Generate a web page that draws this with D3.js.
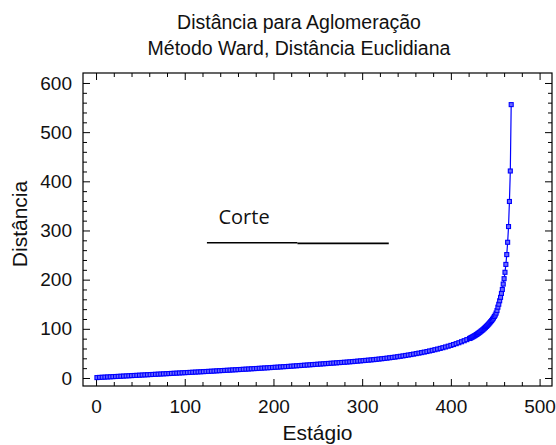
<!DOCTYPE html>
<meta charset="utf-8">
<style>
  body { margin: 0; background: #fff; }
  text { font-family: "Liberation Sans", Arial, sans-serif; fill: #111; }
  .tick line { stroke: #000; }
</style>
<svg width="556" height="445"></svg>
<script src="https://d3js.org/d3.v7.min.js"></script>
<script>

var titleLines = ["Distância para Aglomeração", "Método Ward, Distância Euclidiana"];
var xLabel = "Estágio",
    yLabel = "Distância";
var xTicks = [0, 100, 200, 300, 400, 500];
var yTicks = [0, 100, 200, 300, 400, 500, 600];

// stage numbers and agglomeration distance
var stages = [1,4,7,10,13,16,19,22,25,28,31,34,37,40,43,46,49,52,55,58,61,64,67,70,73,76,79,82,85,88,91,94,97,100,
  103,106,109,112,115,118,121,124,127,130,133,136,139,142,145,148,151,154,157,160,163,166,169,172,175,178,181,184,187,190,193,196,199,
  202,205,208,211,214,217,220,223,226,229,232,235,238,241,244,247,250,253,256,259,262,265,268,271,274,277,280,283,286,289,292,295,298,
  301,304,307,310,313,316,319,322,325,328,331,334,337,340,343,346,349,352,355,358,361,364,367,370,373,376,379,382,385,388,391,394,397,400,403,406,409,412,415,418,
  421,422,423,424,425,426,427,428,429,430,431,432,433,434,435,436,437,438,439,440,441,442,443,444,
  445,446,447,448,449,450,451,452,453,454,455,456,457,458,459,460,461,462,463,464,465,466,467,468];

var distances = [0.8,1.2,1.5,1.8,2.1,2.4,2.7,3.0,3.3,3.6,3.9,4.2,4.5,4.8,5.1,5.4,5.7,6.0,6.3,6.6,6.9,7.2,7.5,7.8,8.1,8.4,8.7,9.0,9.3,9.6,9.9,10.2,10.5,10.8,
  11.1,11.4,11.7,12.0,12.3,12.6,12.9,13.2,13.5,13.8,14.1,14.5,14.8,15.1,15.4,15.7,16.0,16.4,16.7,17.0,17.3,17.7,18.0,18.3,18.7,19.0,19.3,19.7,20.0,20.4,20.7,21.1,21.4,
  21.8,22.1,22.5,22.9,23.2,23.6,24.0,24.4,24.8,25.2,25.6,26.0,26.4,26.8,27.2,27.6,28.0,28.4,28.8,29.2,29.6,30.0,30.4,30.8,31.2,31.6,32.0,32.4,32.9,33.3,33.8,34.3,34.8,
  35.3,35.8,36.3,36.8,37.3,37.9,38.5,39.1,39.7,40.4,41.1,41.8,42.5,43.3,44.1,44.9,45.8,46.7,47.6,48.6,49.6,50.6,51.6,52.7,53.8,55.0,56.2,57.5,58.8,60.2,61.6,63.1,64.7,66.3,68.0,69.8,71.7,73.7,75.8,78.0,
  80.3,81.2,82.1,83.1,84.1,85.1,86.2,87.3,88.5,89.7,91.0,92.3,93.7,95.1,96.6,98.1,99.7,101.3,103.0,104.8,106.6,108.5,110.5,112.6,
  114.8,117.0,119.5,122.0,125.0,128.0,132.0,137.0,144,150,157,164,172,180,191,202,215,231,251,276,308,359,421,556];

// "Corte" cut line (two pieces, slightly different level)
var corteFrom = [125, 227],
    corteTo = [227, 330],
    corteLevel = [275, 273.8];
var corteText = "Corte", corteTextAt = [138, 313];

var svg = d3.select("svg"),
    margin = {top: 73, right: 4, bottom: 59, left: 83},
    width = +svg.attr("width") - margin.left - margin.right,
    height = +svg.attr("height") - margin.top - margin.bottom,
    g = svg.append("g").attr("transform", "translate(" + margin.left + "," + margin.top + ")");

var x = d3.scaleLinear().domain([-14.7, 514]).range([0, width]);
var y = d3.scaleLinear().domain([-16.3, 620.3]).range([height, 0]);

var xMinor = d3.range(0, 520, 20).filter(function(v) { return v % 100 != 0; }),
    yMinor = d3.range(0, 620, 20).filter(function(v) { return v % 100 != 0; });

var fs = 19;

// bottom axis with labels
g.append("g")
    .attr("transform", "translate(0," + height + ")")
    .call(d3.axisBottom(x).tickValues(xTicks).tickSize(-7).tickPadding(13.5))
    .call(function(s) { s.select(".domain").remove(); s.selectAll("text").style("font-size", fs + "px").attr("fill", "#111"); });
g.append("g")
    .attr("transform", "translate(0," + height + ")")
    .call(d3.axisBottom(x).tickValues(xMinor).tickSize(-4).tickFormat(""))
    .call(function(s) { s.select(".domain").remove(); });

// top mirror ticks
g.append("g")
    .call(d3.axisTop(x).tickValues(xTicks).tickSize(-7).tickFormat(""))
    .call(function(s) { s.select(".domain").remove(); });
g.append("g")
    .call(d3.axisTop(x).tickValues(xMinor).tickSize(-4).tickFormat(""))
    .call(function(s) { s.select(".domain").remove(); });

// left axis with labels
g.append("g")
    .call(d3.axisLeft(y).tickValues(yTicks).tickSize(-7).tickPadding(11))
    .call(function(s) { s.select(".domain").remove(); s.selectAll("text").style("font-size", fs + "px").attr("fill", "#111"); });
g.append("g")
    .call(d3.axisLeft(y).tickValues(yMinor).tickSize(-4).tickFormat(""))
    .call(function(s) { s.select(".domain").remove(); });

// right mirror ticks
g.append("g")
    .attr("transform", "translate(" + width + ",0)")
    .call(d3.axisRight(y).tickValues(yTicks).tickSize(-7).tickFormat(""))
    .call(function(s) { s.select(".domain").remove(); });
g.append("g")
    .attr("transform", "translate(" + width + ",0)")
    .call(d3.axisRight(y).tickValues(yMinor).tickSize(-4).tickFormat(""))
    .call(function(s) { s.select(".domain").remove(); });

// frame
g.append("rect")
    .attr("width", width)
    .attr("height", height)
    .attr("fill", "none")
    .attr("stroke", "#000")
    .attr("stroke-width", 1.2);

var pts = stages.map(function(s, i) { return [s, distances[i]]; });

var line = d3.line()
    .x(function(d) { return x(d[0]); })
    .y(function(d) { return y(d[1]); });

g.append("path")
    .datum(pts)
    .attr("fill", "none")
    .attr("stroke", "#0000ff")
    .attr("stroke-width", 1.2)
    .attr("d", line);

var ms = 4;
g.selectAll(".pt")
    .data(pts)
  .enter().append("rect")
    .attr("class", "pt")
    .attr("x", function(d) { return x(d[0]) - ms / 2; })
    .attr("y", function(d) { return y(d[1]) - ms / 2; })
    .attr("width", ms)
    .attr("height", ms)
    .attr("fill", "#6a6aff")
    .attr("stroke", "#0000ff")
    .attr("stroke-width", 1.1);

// cut line
corteFrom.forEach(function(a, i) {
  g.append("line")
      .attr("x1", x(a))
      .attr("x2", x(corteTo[i]))
      .attr("y1", y(corteLevel[i]))
      .attr("y2", y(corteLevel[i]))
      .attr("stroke", "#000")
      .attr("stroke-width", 1.6);
});

g.append("text")
    .attr("x", x(corteTextAt[0]))
    .attr("y", y(corteTextAt[1]))
    .style("font-family", "'Open Sans', sans-serif")
    .style("font-size", "20px")
    .text(corteText);

// titles
svg.selectAll(".title")
    .data(titleLines)
  .enter().append("text")
    .attr("class", "title")
    .attr("x", 299)
    .attr("y", function(d, i) { return 29 + i * 26; })
    .attr("text-anchor", "middle")
    .style("font-size", "19.5px")
    .text(function(d) { return d; });

svg.append("text")
    .attr("x", margin.left + width / 2)
    .attr("y", 440)
    .attr("text-anchor", "middle")
    .style("font-size", "21px")
    .text(xLabel);

svg.append("text")
    .attr("transform", "translate(27," + 224 + ") rotate(-90)")
    .attr("text-anchor", "middle")
    .style("font-size", "21px")
    .text(yLabel);

</script>
